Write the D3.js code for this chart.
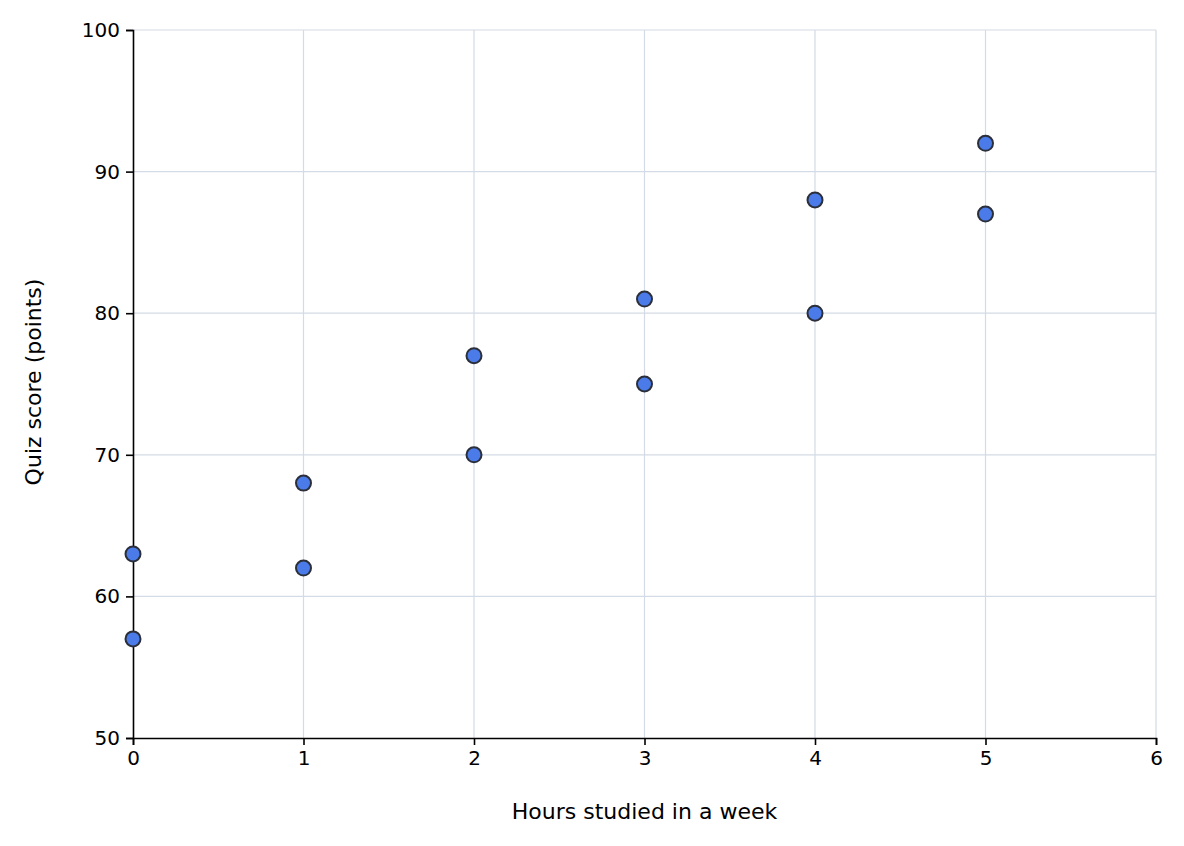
<!DOCTYPE html>
<html><head><meta charset="utf-8">
<script src="https://cdn.jsdelivr.net/npm/d3@7"></script>
<style>body{margin:0;background:#fff}svg{font-family:"DejaVu Sans",sans-serif}</style>
</head><body><svg id="c" width="1184" height="846"></svg>
<script>
const hours = [0,0,1,1,2,2,3,3,4,4,5,5];
const scores = [63,57,68,62,77,70,81,75,88,80,92,87];
const xTicks = [0,1,2,3,4,5,6];
const yTicks = [50,60,70,80,90,100];
const svg = d3.select("#c");
const L=133,R=1156,T=30,B=738;
const x = d3.scaleLinear().domain([0,6]).range([L,R]);
const y = d3.scaleLinear().domain([50,100]).range([B,T]);
const g = svg.append("g");
g.selectAll(".gx").data(xTicks.slice(1)).join("line").attr("x1",d=>x(d)).attr("x2",d=>x(d)).attr("y1",T).attr("y2",B).attr("stroke","#d3dbe6").attr("stroke-width",1.2);
g.selectAll(".gy").data(yTicks.slice(1)).join("line").attr("x1",L).attr("x2",R).attr("y1",d=>y(d)).attr("y2",d=>y(d)).attr("stroke","#d3dbe6").attr("stroke-width",1.2);
const xa = svg.append("g").attr("transform",`translate(0,${B})`).call(d3.axisBottom(x).tickValues(xTicks).tickFormat(d3.format("d")).tickSize(7).tickPadding(6));
const ya = svg.append("g").attr("transform",`translate(${L},0)`).call(d3.axisLeft(y).tickValues(yTicks).tickFormat(d3.format("d")).tickSize(7).tickPadding(6));
[xa,ya].forEach(a=>{a.attr("font-size",20).attr("font-family","DejaVu Sans");a.selectAll("text").style("font-size","20px").attr("fill","#000");a.selectAll("line,path").attr("stroke","#000").attr("stroke-width",1.6);});
svg.append("text").attr("x",(L+R)/2).attr("y",819).attr("text-anchor","middle").style("font-size","22px").text("Hours studied in a week");
svg.append("text").attr("transform",`translate(41,${(T+B)/2-2}) rotate(-90)`).attr("text-anchor","middle").style("font-size","22px").text("Quiz score (points)");
svg.append("g").selectAll("circle").data(hours.map((h,i)=>[h,scores[i]])).join("circle")
  .attr("cx",d=>x(d[0])).attr("cy",d=>y(d[1])).attr("r",7.5)
  .attr("fill","#4a7be8").attr("stroke","#2b2f3a").attr("stroke-width",2);
</script></body></html>
